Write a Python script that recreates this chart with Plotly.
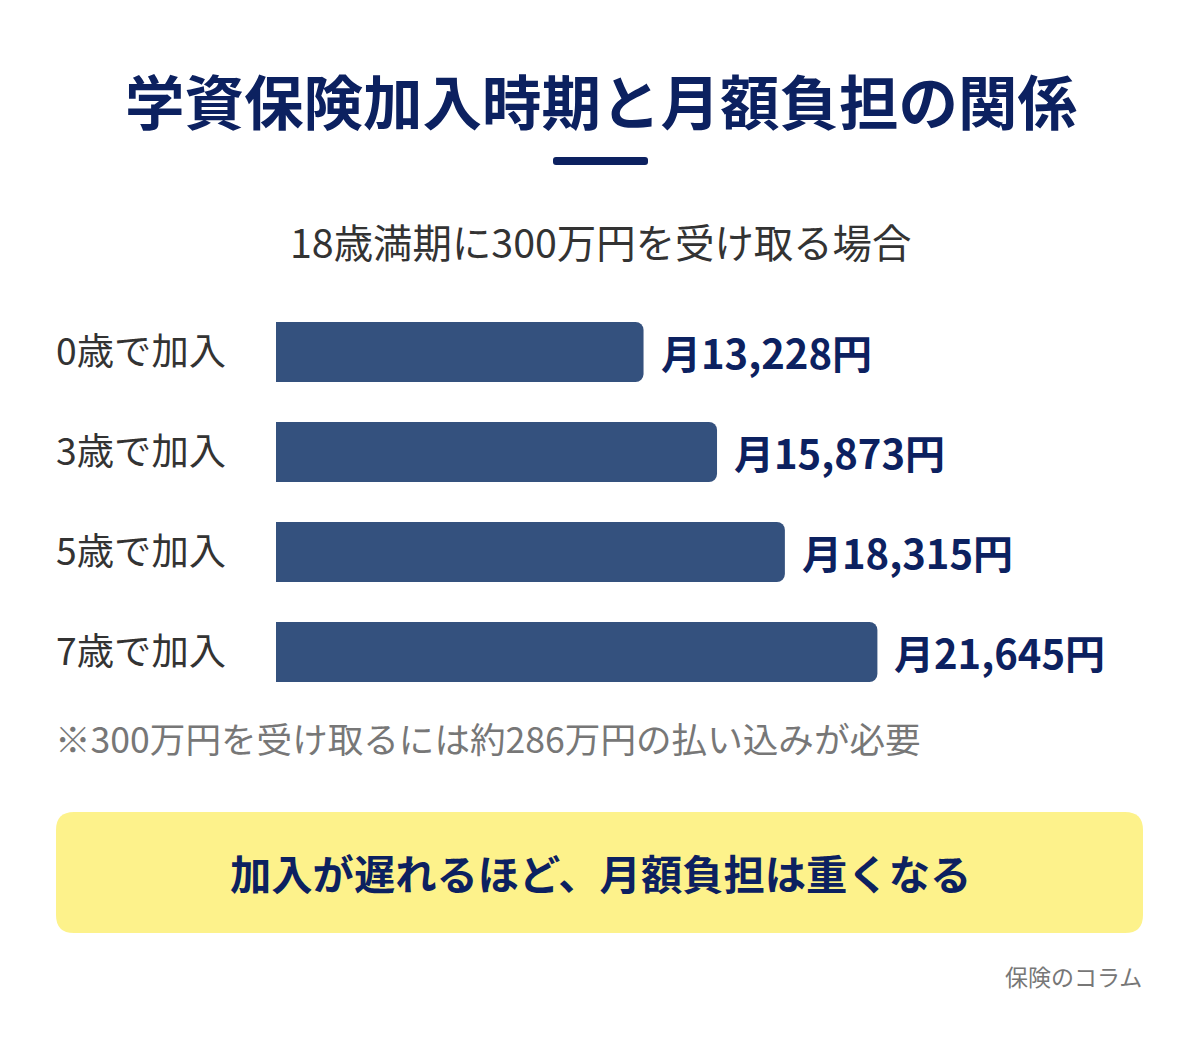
import plotly.graph_objects as go

categories = ["0歳で加入", "3歳で加入", "5歳で加入", "7歳で加入"]
monthly = [13228, 15873, 18315, 21645]
value_labels = ["月13,228円", "月15,873円", "月18,315円", "月21,645円"]

title_text = "学資保険加入時期と月額負担の関係"
subtitle_text = "18歳満期に300万円を受け取る場合"
note_text = "※300万円を受け取るには約286万円の払い込みが必要"
callout_text = "加入が遅れるほど、月額負担は重くなる"
source_text = "保険のコラム"

OFF = 8  # page body margin
W, H = 1200 - OFF, 1050 - OFF
L, R, T, B = 276 - OFF, 56, 302 - OFF, 348
PW, PH = W - L - R, H - T - B

def px(x):
    return (x - OFF - L) / PW

def py(y):
    return (H - B - (y - OFF)) / PH

FONT = "Noto Sans CJK JP"
NAVY = "#0c2160"
BAR = "#34517e"

fig = go.Figure(go.Bar(
    x=monthly, y=categories, orientation="h",
    marker=dict(color=BAR, cornerradius=8, line=dict(width=0)),
    width=0.6, hoverinfo="skip",
))

annotations = []
for c, v, t in zip(categories, monthly, value_labels):
    annotations.append(dict(x=v, y=c, xref="x", yref="y", text=f"<b>{t}</b>",
                            xanchor="left", yanchor="middle", xshift=15, showarrow=False,
                            font=dict(family=FONT, size=40, color=NAVY)))

def txt(x, y, text, size, color, anchor="center", bold=False):
    annotations.append(dict(x=px(x), y=py(y), xref="paper", yref="paper",
                            text=f"<b>{text}</b>" if bold else text,
                            xanchor=anchor, yanchor="middle", showarrow=False,
                            font=dict(family=FONT, size=size, color=color)))

txt(601, 99, title_text, 59.5, NAVY, bold=True)
txt(600, 241, subtitle_text, 39.4, "#333333")
txt(53, 737, note_text, 35.6, "#777777", anchor="left")
txt(600, 872, callout_text, 41.3, NAVY, bold=True)
txt(1144, 976, source_text, 23, "#777777", anchor="right")

def rrect(x0, y0, x1, y1, r):
    X0, X1 = px(x0), px(x1)
    Y0, Y1 = py(y0), py(y1)
    rx, ry = r / PW, r / PH
    return (f"M {X0+rx},{Y0} L {X1-rx},{Y0} Q {X1},{Y0} {X1},{Y0-ry} "
            f"L {X1},{Y1+ry} Q {X1},{Y1} {X1-rx},{Y1} L {X0+rx},{Y1} "
            f"Q {X0},{Y1} {X0},{Y1+ry} L {X0},{Y0-ry} Q {X0},{Y0} {X0+rx},{Y0} Z")

shapes = [
    dict(type="path", xref="paper", yref="paper", path=rrect(553, 157, 648, 165, 3),
         fillcolor=NAVY, line=dict(width=0), layer="below"),
    dict(type="path", xref="paper", yref="paper", path=rrect(56, 812, 1143, 933, 18),
         fillcolor="#fdf28b", line=dict(width=0), layer="below"),
]

fig.update_layout(
    width=W, height=H,
    margin=dict(l=L, r=R, t=T, b=B, pad=0),
    paper_bgcolor="white", plot_bgcolor="white",
    showlegend=False,
    xaxis=dict(range=[0, 31240], visible=False, fixedrange=True),
    yaxis=dict(categoryorder="array", categoryarray=categories, autorange="reversed",
               showgrid=False, zeroline=False, showline=False, ticks="",
               ticklabelstandoff=49,
               tickfont=dict(family=FONT, size=37.3, color="#333333"), fixedrange=True),
    annotations=annotations, shapes=shapes,
    font=dict(family=FONT),
)

fig.write_html("out.html", config={"displayModeBar": False})
